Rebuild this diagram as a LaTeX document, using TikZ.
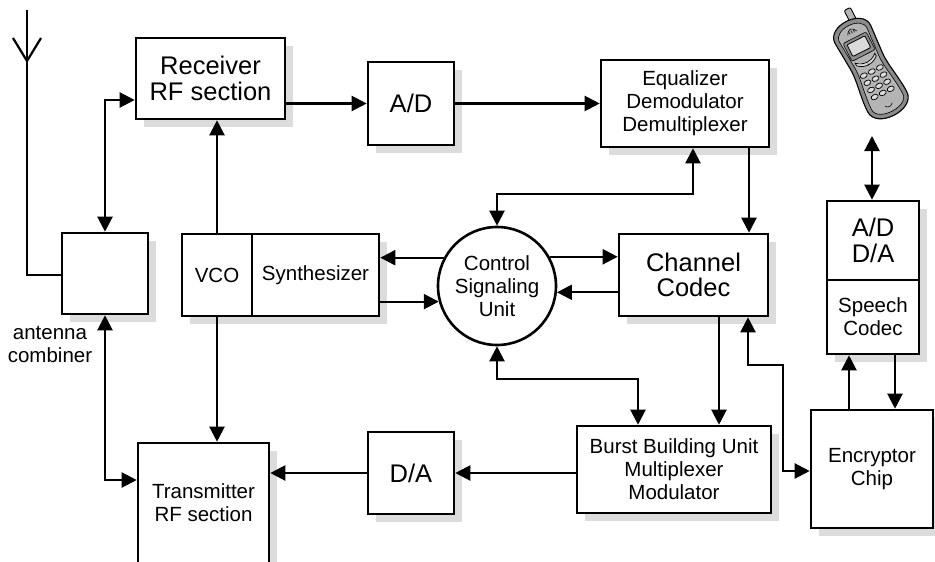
\documentclass[tikz,border=0pt]{standalone}
\usepackage{fontspec}
\setmainfont{Liberation Sans}
\usetikzlibrary{arrows.meta,calc}
\definecolor{shadowgray}{HTML}{DCDCDC}
\definecolor{phonedark}{HTML}{8A8A8A}
\definecolor{phonelight}{HTML}{B4B4B4}
\definecolor{phonescreen}{HTML}{DADADA}
\newcommand\fsN{\fontsize{20.5pt}{23pt}\selectfont}
\newcommand\fsB{\fontsize{25.5pt}{25.5pt}\selectfont}
\begin{document}
\begin{tikzpicture}[x=1pt,y=-1pt,
  box/.style={draw, line width=2.6pt, fill=white, inner sep=0pt, align=center,
    font=\fsN, preaction={fill=shadowgray, draw=none, transform canvas={shift={(8pt,-8pt)}}}},
  big/.style={font=\fsB},
  wire/.style={line width=2.2pt},
  >={Triangle[length=15pt,width=15pt]}]
\useasboundingbox (0,0) rectangle (935,562);
\fill[white] (0,0) rectangle (935,562);

% antenna
\coordinate (ant) at (27,10);
\draw[wire] (13,38) -- (27,61) -- (41,38);

% blocks of the receive chain
\node[box, minimum width=86pt, minimum height=81pt] (comb) at (105,273.5) {};
\node[box, big, minimum width=149pt, minimum height=81pt] (rx) at (210.5,78.5) {Receiver\\RF section};
\node[box, big, minimum width=86pt, minimum height=83pt] (ad) at (411,103.5) {A/D};
\node[box, minimum width=168pt, minimum height=87pt] (eq) at (685,103.5) {Equalizer\\Demodulator\\Demultiplexer};

% oscillator and synthesizer
\node[box, minimum width=70pt, minimum height=82pt] (vco) at (217,275) {VCO};
\node[box, minimum width=127pt, minimum height=82pt] (syn) at (315.5,275) {Synthesizer};

% control unit and channel codec
\node[circle, draw, line width=2.6pt, fill=white, minimum size=118pt, inner sep=0pt,
  align=center, font=\fsN] (csu) at (497,286) {Control\\Signaling\\Unit};
\node[box, big, minimum width=149pt, minimum height=82pt] (cc) at (693.5,275) {Channel\\Codec};

% speech path
\node[box, big, minimum width=92pt, minimum height=79pt] (adda) at (873,240.5) {A/D\\D/A};
\node[box, minimum width=92pt, minimum height=74pt] (sc) at (873,317) {Speech\\Codec};
\node[box, minimum width=122pt, minimum height=118pt] (enc) at (872,469) {Encryptor\\Chip};

% transmit chain
\node[box, minimum width=194pt, minimum height=87pt] (burst) at (674,469.5) {Burst Building Unit\\Multiplexer\\Modulator};
\node[box, big, minimum width=86pt, minimum height=82pt] (da) at (411,473) {D/A};
\node[box, minimum width=131pt, minimum height=120pt] (tx) at (203.5,503) {Transmitter\\RF section};

\node[font=\fsN, align=center, inner sep=0pt] (acl) at (50,344) {antenna\\combiner};

% handset
\begin{scope}[shift={(870,68)}, rotate=27]
  \filldraw[fill=phonelight, line width=0.9pt, rounded corners=2pt] (3,-63) rectangle (10,-46);
  \filldraw[fill=phonedark, line width=1.1pt]
    (-20,-38) .. controls (-20,-57) and (20,-57) .. (20,-38)
    -- (18,-8) .. controls (17,4) and (22,22) .. (22,38)
    .. controls (22,58) and (-22,58) .. (-22,38)
    .. controls (-22,22) and (-17,4) .. (-18,-8) -- cycle;
  \filldraw[fill=phonelight, line width=0.6pt]
    (-15.5,-37) .. controls (-15.5,-51) and (15.5,-51) .. (15.5,-37)
    -- (13.5,-8) .. controls (12.5,4) and (17.5,22) .. (17.5,38)
    .. controls (17.5,52) and (-17.5,52) .. (-17.5,38)
    .. controls (-17.5,22) and (-12.5,4) .. (-13.5,-8) -- cycle;
  % earpiece
  \draw[line width=0.6pt] (-5,-39) .. controls (-2,-45) and (2,-45) .. (5,-39);
  \foreach \u in {-2.5,0,2.5} \draw[line width=0.6pt] (\u,-42) -- (\u,-39);
  % display
  \filldraw[fill=phonedark, line width=0.6pt, rounded corners=2pt] (-13,-34) rectangle (13,-14);
  \filldraw[fill=phonescreen, line width=0.8pt, rounded corners=1pt] (-10,-31) rectangle (10,-18);
  % navigation keys
  \filldraw[fill=phonescreen, line width=0.7pt] (-11,-11) .. controls (-5,-5) and (5,-5) .. (11,-11)
    -- (11,-8) .. controls (5,-2) and (-5,-2) .. (-11,-8) -- cycle;
  \draw[line width=0.6pt] (0,-5) -- (0,-3);
  % keypad
  \foreach \r in {0,...,3}
    \foreach \c in {-1,0,1}
      \filldraw[fill=phonescreen, line width=0.7pt] (\c*9, 4+\r*8) ellipse (3.7 and 2.5);
  \draw[line width=0.6pt] (-4,41) .. controls (-1,44) and (1,44) .. (4,41);
\end{scope}
\coordinate (phone) at (872,136);

% connectors
\draw[wire] (ant) -- (27,275) -- (27,275 -| comb.west);
\draw[wire,<->] (comb.north) |- ([yshift=-21.5pt]rx.west);
\draw[wire,->] (rx.east |- ad.west) -- (ad.west);
\draw[wire,->] (ad.east) -- (eq.west);
\draw[wire,->] (vco.north) -- (vco.north |- rx.south);
\draw[wire,->] (vco.south) -- (vco.south |- tx.north);
\draw[wire,<->] (comb.south) |- ([yshift=23pt]tx.west);
\draw[wire,->] (da.west) -- (da.west -| tx.east);
\draw[wire,->] (burst.west |- da.east) -- (da.east);
\draw[wire,<->] ([xshift=8pt]eq.south) -- ++(0,46) -| (csu.north);
\draw[wire,->] ([xshift=64pt]eq.south) -- ([xshift=64pt]eq.south |- cc.north);
\draw[wire,->] (csu.29.4) -- (csu.29.4 -| cc.west);
\draw[wire,->] (cc.west |- csu.-6.8) -- (csu.-6.8);
\draw[wire,->] (csu.152.8) -- (csu.152.8 -| syn.east);
\draw[wire,->] (syn.east |- csu.195.7) -- (csu.195.7);
\draw[wire,<->] (csu.south) -- ++(0,33) -| ([xshift=-36pt]burst.north);
\draw[wire,->] ([xshift=25.5pt]cc.south) -- ([xshift=25.5pt]cc.south |- burst.north);
\draw[wire,<->] ([xshift=54.5pt]cc.south) |- ++(35,48) |- ([yshift=-2pt]enc.west);
\draw[wire,->] ([xshift=-23pt]enc.north) -- ([xshift=-23pt]enc.north |- sc.south);
\draw[wire,->] ([xshift=22pt]sc.south) -- ([xshift=22pt]sc.south |- enc.north);
\draw[wire,<->] (phone) -- (phone |- adda.north);
\end{tikzpicture}
\end{document}
